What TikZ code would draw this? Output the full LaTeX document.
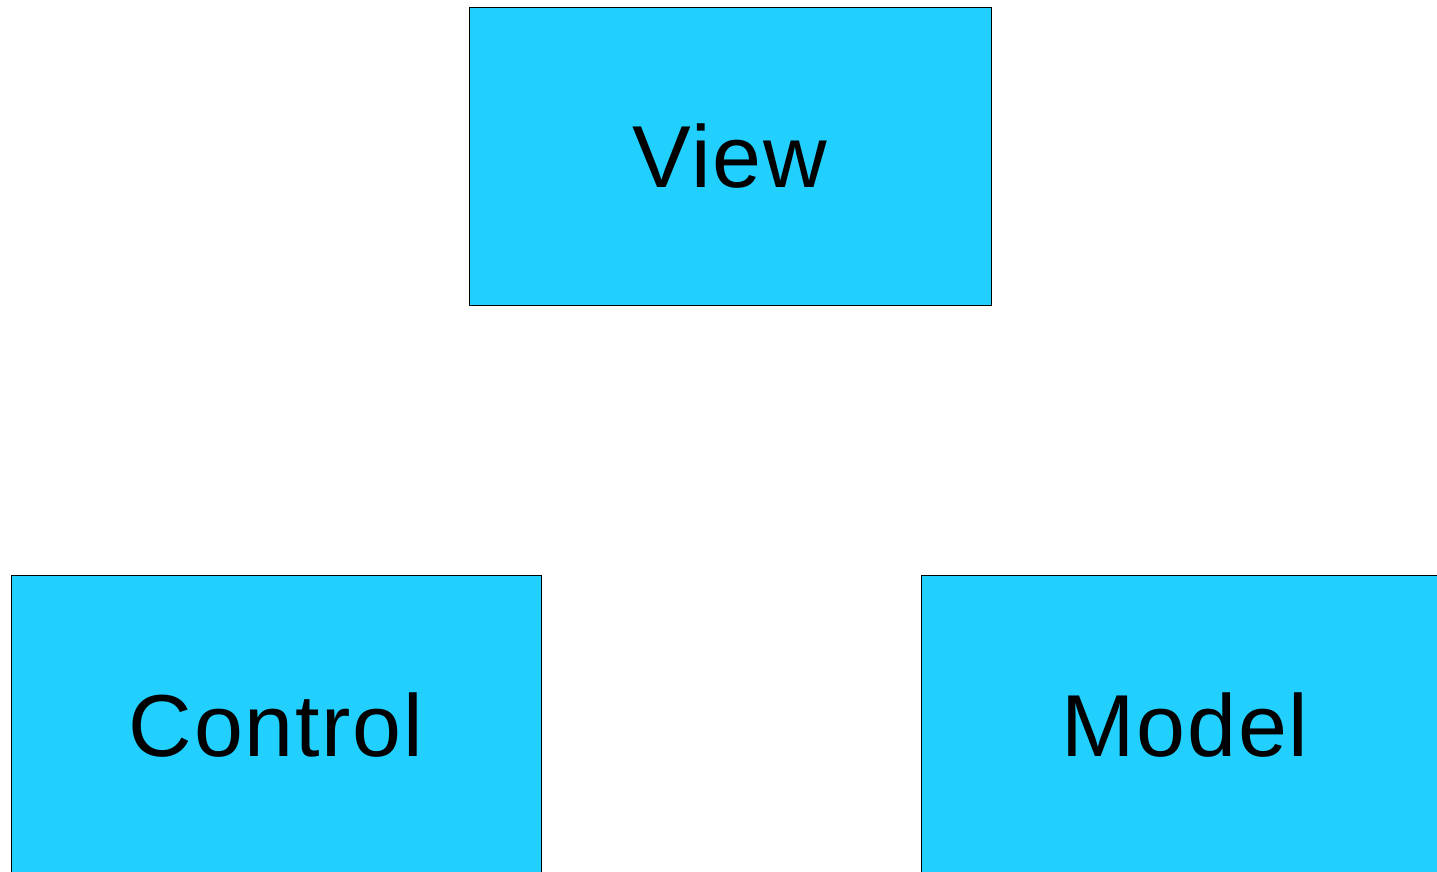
\documentclass[tikz,border=0pt]{standalone}
\usepackage{fontspec}
\setmainfont{Liberation Sans}
\newfontfamily\boxfont{Liberation Sans}[LetterSpace=2]
\definecolor{boxblue}{HTML}{22D0FF}
\begin{document}
\begin{tikzpicture}[x=1pt,y=-1pt,
  mvcbox/.style={draw=black, line width=0.8pt, fill=boxblue, inner sep=0pt,
    font=\boxfont\fontsize{88}{100}\selectfont, text=black}]
\useasboundingbox (0,0) rectangle (1437,871);
\clip (0,0) rectangle (1437,871);
\node[mvcbox, minimum width=522pt, minimum height=298pt] (view) at (730,156) {View};
\node[mvcbox, minimum width=530pt, minimum height=300pt] (control) at (276,725) {Control};
\node[mvcbox, minimum width=528pt, minimum height=300pt] (model) at (1185,725) {Model};
\end{tikzpicture}
\end{document}
